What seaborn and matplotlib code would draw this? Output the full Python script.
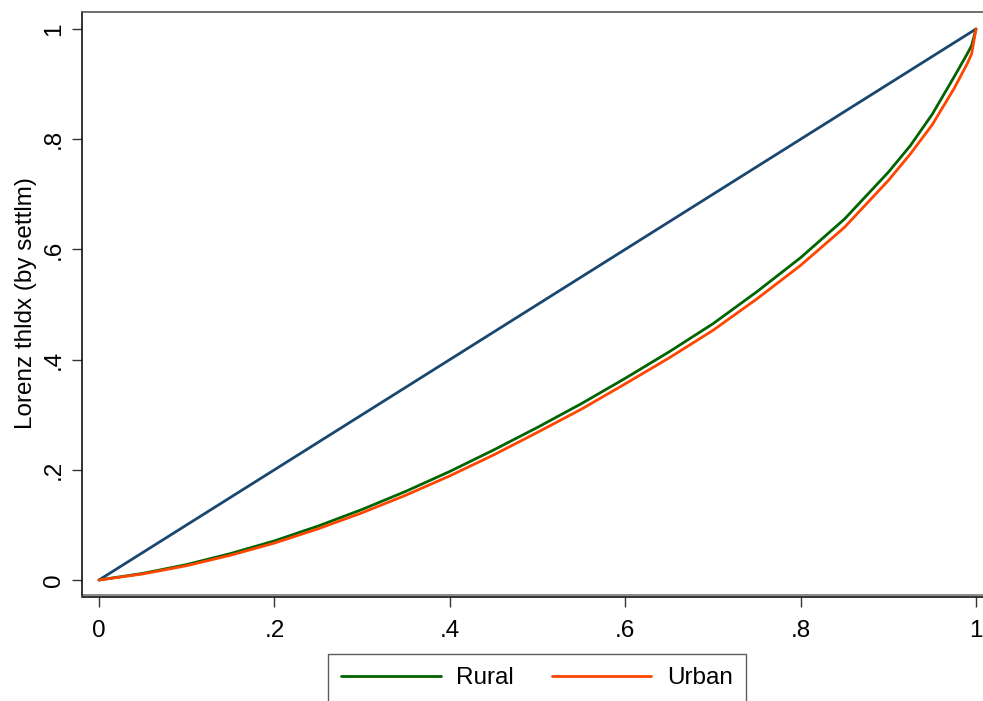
import matplotlib
matplotlib.use("Agg")
import matplotlib.pyplot as plt
import seaborn as sns
import pandas as pd

# ---- data ----
pop_share = [0.0, 0.05, 0.10, 0.15, 0.20, 0.25, 0.30, 0.35, 0.40, 0.45, 0.50,
             0.55, 0.60, 0.65, 0.70, 0.75, 0.80, 0.85, 0.90, 0.925, 0.95,
             0.975, 0.99, 0.995, 1.0]
rural = [0.0, 0.012, 0.028, 0.048, 0.071, 0.098, 0.128, 0.161, 0.197, 0.236,
         0.277, 0.320, 0.366, 0.414, 0.465, 0.523, 0.585, 0.655, 0.740, 0.788,
         0.845, 0.913, 0.955, 0.970, 1.0]
urban = [0.0, 0.011, 0.026, 0.045, 0.067, 0.093, 0.122, 0.154, 0.189, 0.227,
         0.268, 0.310, 0.356, 0.403, 0.453, 0.510, 0.571, 0.640, 0.725, 0.773,
         0.826, 0.892, 0.937, 0.955, 1.0]
equality_x = [0.0, 1.0]
equality_y = [0.0, 1.0]
groups = ["Rural", "Urban"]
xticks = [0, 0.2, 0.4, 0.6, 0.8, 1.0]
xtick_labels = ["0", ".2", ".4", ".6", ".8", "1"]
yticks = [0, 0.2, 0.4, 0.6, 0.8, 1.0]
ytick_labels = ["0", ".2", ".4", ".6", ".8", "1"]
ylabel = "Lorenz thldx (by settlm)"

df = pd.DataFrame({
    "p": pop_share + pop_share,
    "L": rural + urban,
    "group": [groups[0]] * len(pop_share) + [groups[1]] * len(pop_share),
})
eq = pd.DataFrame({"p": equality_x, "L": equality_y})

sns.set_theme(style="white")
plt.rcParams["font.family"] = ["Liberation Sans", "DejaVu Sans"]

W, H = 983, 701
fig = plt.figure(figsize=(W / 100, H / 100), dpi=100)
ax = fig.add_axes([82 / W, 1 - 595 / H, 911 / W, 583 / H])

palette = {"Rural": "#006400", "Urban": "#ff4500"}
sns.lineplot(data=eq, x="p", y="L", color="#1a476f", lw=2.0, ax=ax,
             estimator=None, sort=False, legend=False)
sns.lineplot(data=df, x="p", y="L", hue="group", palette=palette,
             hue_order=groups, lw=2.0, ax=ax, estimator=None, sort=False)
for ln in ax.get_lines():
    ln.set_solid_joinstyle("round")

# spines first (set_position resets tick properties)
for s in ["top", "right"]:
    ax.spines[s].set_color("#555555")
    ax.spines[s].set_linewidth(1.2)
ax.spines["left"].set_color("#111111")
ax.spines["left"].set_linewidth(1.2)
ax.spines["bottom"].set_color("#111111")
ax.spines["bottom"].set_linewidth(1.2)
ax.spines["bottom"].set_position(("outward", 1.6))
# inner plot-region frame bottom
ax.plot([0, 1], [0, 0], transform=ax.transAxes, color="#777777", lw=1.2,
        clip_on=False)

ax.set_xlim((82 - 99) / 877, (993 - 99) / 877)
ax.set_ylim((580 - 595) / 551, (580 - 12) / 551)

ax.set_xticks(xticks)
ax.set_xticklabels(xtick_labels, fontsize=17.5)
ax.set_yticks(yticks)
ax.set_yticklabels(ytick_labels, fontsize=17.5, rotation=90, va="center")
ax.tick_params(axis="x", length=7.2, width=1, color="#333333", pad=9,
               bottom=True, labelsize=17.5, labelcolor="black")
ax.tick_params(axis="y", length=7.2, width=1, color="#333333", pad=5,
               left=True, labelsize=17.5, labelcolor="black")
ax.set_xlabel("")
ax.set_ylabel(ylabel, fontsize=17.5, labelpad=4, color="black")

ax.get_legend().remove()
handles, labels = ax.get_legend_handles_labels()
leg = fig.legend(handles, labels, loc="upper center",
                 bbox_to_anchor=(537 / W, 1 - 654 / H), ncol=2,
                 fontsize=17.5, frameon=True, fancybox=False,
                 edgecolor="#333333", handlelength=4.1, handletextpad=0.65,
                 columnspacing=1.55, borderpad=0.55, borderaxespad=0)
leg.get_frame().set_linewidth(1.0)
for t in leg.get_texts():
    t.set_color("black")
for h in leg.get_lines():
    h.set_linewidth(2.0)

fig.savefig("out.png", dpi=100)
